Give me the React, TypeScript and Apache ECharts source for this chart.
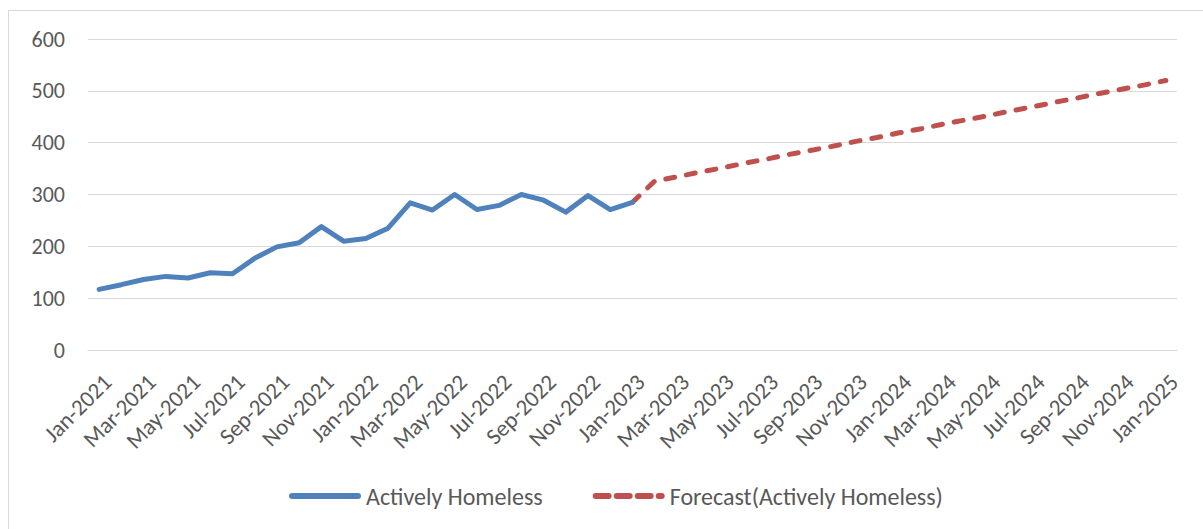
import React, { useEffect, useRef } from "react";
import * as echarts from "echarts";

const months = ["Jan", "Feb", "Mar", "Apr", "May", "Jun", "Jul", "Aug", "Sep", "Oct", "Nov", "Dec"];
const categories: string[] = [];
for (let y = 2021; y <= 2025; y++) {
  for (const m of months) {
    if (y === 2025 && m !== "Jan") break;
    categories.push(`${m}-${y}`);
  }
}

// Jan-2021 .. Jan-2023
const activelyHomeless = [
  117, 126, 136, 142, 139, 149, 147, 177, 199, 207, 238, 210,
  215, 235, 284, 270, 300, 271, 279, 300, 289, 266, 298, 271,
  285,
];

// Jan-2023 .. Jan-2025
const forecast = [
  285, 326, 334, 343, 351, 360, 368, 377, 385, 393, 402, 410, 419,
  427, 436, 444, 452, 461, 469, 478, 486, 495, 503, 511, 520,
];

const yTicks = { min: 0, max: 600, interval: 100 };

const FONT = "Calibri, Carlito, Lato, sans-serif";
const TEXT = "#595959";
const BLUE = "#4F81BD";
const RED = "#C0504D";

const solidIcon = "path://M3,0 L69,0 A3,3 0 0 1 69,6 L3,6 A3,3 0 0 1 3,0 Z";
const dashedIcon =
  "path://M3,0 L16,0 A3,3 0 0 1 16,6 L3,6 A3,3 0 0 1 3,0 Z " +
  "M24,0 L37,0 A3,3 0 0 1 37,6 L24,6 A3,3 0 0 1 24,0 Z " +
  "M45,0 L58,0 A3,3 0 0 1 58,6 L45,6 A3,3 0 0 1 45,0 Z " +
  "M66,0 L69,0 A3,3 0 0 1 69,6 L66,6 A3,3 0 0 1 66,0 Z";

export default function App() {
  const ref = useRef<HTMLDivElement>(null);
  useEffect(() => {
    if (!ref.current) return;
    const chart = echarts.init(ref.current, undefined, { renderer: "svg" });
    const actualData = categories.map((_, i) => (i < activelyHomeless.length ? activelyHomeless[i] : null));
    const offset = activelyHomeless.length - 1;
    const forecastData = categories.map((_, i) => (i >= offset ? forecast[i - offset] : null));
    chart.setOption({
      animation: false,
      textStyle: { fontFamily: FONT },
      grid: { left: 79, right: 26, top: 28, bottom: 179, containLabel: false },
      legend: {
        left: 280,
        top: 473,
        padding: 0,
        itemWidth: 72,
        itemHeight: 6,
        itemGap: 50,
        symbolKeepAspect: true,
        textStyle: { fontFamily: FONT, fontSize: 24, color: TEXT },
        data: [
          { name: "Actively Homeless", icon: solidIcon, itemStyle: { color: BLUE, borderWidth: 0 } },
          { name: "Forecast(Actively Homeless)", icon: dashedIcon, itemStyle: { color: RED, borderWidth: 0 } },
        ],
      },
      xAxis: {
        type: "category",
        data: categories,
        boundaryGap: true,
        axisLine: { show: true, lineStyle: { color: "#d9d9d9", width: 1 } },
        axisTick: { show: false },
        axisLabel: {
          interval: 1,
          rotate: 45,
          margin: 20,
          verticalAlign: "top",
          fontFamily: FONT,
          fontSize: 23,
          color: TEXT,
        },
      },
      yAxis: {
        type: "value",
        min: yTicks.min,
        max: yTicks.max,
        interval: yTicks.interval,
        axisLine: { show: false },
        axisTick: { show: false },
        splitLine: { lineStyle: { color: "#d9d9d9", width: 1 } },
        axisLabel: { margin: 23, fontFamily: FONT, fontSize: 22, color: TEXT },
      },
      series: [
        {
          name: "Actively Homeless",
          type: "line",
          data: actualData,
          symbol: "none",
          showSymbol: false,
          itemStyle: { color: BLUE },
          lineStyle: { color: BLUE, width: 5, cap: "round", join: "round" },
          z: 3,
        },
        {
          name: "Forecast(Actively Homeless)",
          type: "line",
          data: forecastData,
          symbol: "none",
          showSymbol: false,
          itemStyle: { color: RED },
          lineStyle: { color: RED, width: 5, type: [9, 12], cap: "round", join: "round" },
          z: 2,
        },
      ],
    });
    return () => chart.dispose();
  }, []);
  return (
    <div
      ref={ref}
      style={{
        position: "absolute",
        left: 8,
        top: 10,
        width: 1195,
        height: 519,
        boxSizing: "border-box",
        borderLeft: "1px solid #d9d9d9",
        borderTop: "1px solid #d9d9d9",
        background: "#fff",
      }}
    />
  );
}
